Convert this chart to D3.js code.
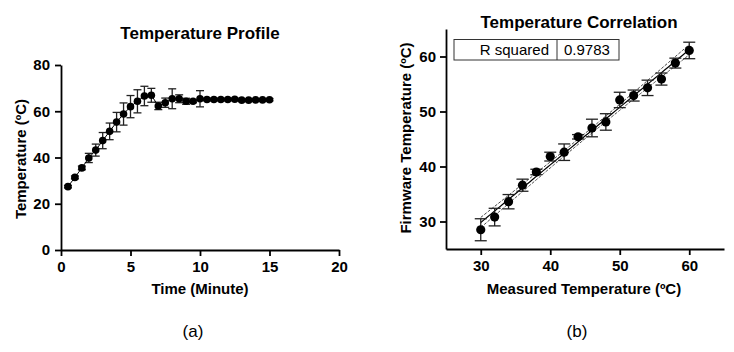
<html>
<head>
    <script src="https://d3js.org/d3.v7.min.js"></script>
    <style>
        body { margin: 0; background: #fff; }
        text { font-family: "Liberation Sans", Arial, sans-serif; fill: #000; }
        .axis path, .axis line { stroke: #000; stroke-width: 1.8; }
        .axis text { font-size: 15px; font-weight: bold; }
        .title { font-size: 17px; font-weight: bold; }
        .label { font-size: 15px; font-weight: bold; }
    </style>
</head>
<body>
<svg width="734" height="352"></svg>
<script>
    // (a) temperature profile
    const timeMin = [0.5, 1, 1.5, 2, 2.5, 3, 3.5, 4, 4.5, 5, 5.5, 6, 6.5, 7, 7.5, 8, 8.5, 9, 9.5, 10,
                     10.5, 11, 11.5, 12, 12.5, 13, 13.5, 14, 14.5, 15];
    const tempMean = [27.4, 31.4, 35.5, 39.8, 43.2, 47.3, 51.3, 55.3, 58.8, 62.0, 64.3, 66.6, 66.9, 62.3, 63.7, 65.4,
                      65.4, 64.3, 64.3, 65.4, 65.1, 65.1, 65.1, 65.1, 65.2, 64.8, 64.8, 64.9, 64.9, 65.0];
    const tempErr = [0.5, 0.6, 0.8, 2.0, 2.6, 3.5, 3.6, 4.2, 4.8, 4.8, 5.0, 4.2, 3.0, 1.6, 2.0, 4.3,
                     1.7, 1.3, 0.6, 3.5, 0.5, 0.5, 0.5, 0.5, 0.5, 0.5, 0.5, 0.5, 0.5, 0.5];
    const xTicksA = [0, 5, 10, 15, 20];
    const yTicksA = [0, 20, 40, 60, 80];

    // (b) temperature correlation
    const measured = [30, 32, 34, 36, 38, 40, 42, 44, 46, 48, 50, 52, 54, 56, 58, 60];
    const firmware = [28.5, 30.8, 33.6, 36.6, 39.0, 41.8, 42.6, 45.4, 47.0, 48.1, 52.1, 52.9, 54.3, 55.9, 58.8, 61.1];
    const firmwareErr = [2.0, 1.6, 1.3, 1.1, 0.5, 0.8, 1.5, 0.4, 1.6, 1.5, 1.4, 1.0, 1.4, 1.1, 0.9, 1.5];
    const ticksB = [30, 40, 50, 60];
    const rSquared = "0.9783";

    const svg = d3.select("svg");

    function drawErrors(g, xs, ys, es, x, y, cap) {
        xs.forEach((v, i) => {
            const cx = x(v), y1 = y(ys[i] - es[i]), y2 = y(ys[i] + es[i]);
            g.append("line").attr("x1", cx).attr("x2", cx).attr("y1", y1).attr("y2", y2)
                .attr("stroke", "#222").attr("stroke-width", 1.3);
            [y1, y2].forEach(yy => {
                g.append("line").attr("x1", cx - cap).attr("x2", cx + cap).attr("y1", yy).attr("y2", yy)
                    .attr("stroke", "#222").attr("stroke-width", 1.3);
            });
        });
    }

    // ---------- chart (a)
    const xA = d3.scaleLinear().domain([0, 20]).range([61, 339]);
    const yA = d3.scaleLinear().domain([0, 80]).range([250, 65]);

    svg.append("g").attr("class", "axis").attr("transform", "translate(0,250)")
        .call(d3.axisBottom(xA).tickValues(xTicksA).tickSize(6).tickSizeOuter(0).tickPadding(5));
    svg.append("g").attr("class", "axis").attr("transform", "translate(61,0)")
        .call(d3.axisLeft(yA).tickValues(yTicksA).tickSize(6).tickSizeOuter(0).tickPadding(5));

    const gA = svg.append("g");
    drawErrors(gA, timeMin, tempMean, tempErr, xA, yA, 4);
    gA.append("path")
        .attr("d", d3.line().x((d, i) => xA(d)).y((d, i) => yA(tempMean[i]))(timeMin))
        .attr("fill", "none").attr("stroke", "#000").attr("stroke-width", 1);
    gA.selectAll("circle").data(timeMin).join("circle")
        .attr("cx", d => xA(d)).attr("cy", (d, i) => yA(tempMean[i])).attr("r", 3.8).attr("fill", "#000");

    svg.append("text").attr("class", "title").attr("x", 200).attr("y", 39).attr("text-anchor", "middle")
        .text("Temperature Profile");
    svg.append("text").attr("class", "label").attr("x", 200).attr("y", 294).attr("text-anchor", "middle")
        .text("Time (Minute)");
    svg.append("text").attr("class", "label").attr("text-anchor", "middle")
        .attr("transform", "translate(26,159) rotate(-90)").text("Temperature (ºC)");
    svg.append("text").attr("x", 193).attr("y", 337).attr("text-anchor", "middle")
        .style("font-size", "17px").text("(a)");

    // ---------- chart (b)
    const xB = d3.scaleLinear().domain([25, 65]).range([446, 724]);
    const yB = d3.scaleLinear().domain([25, 65]).range([249, 29]);

    svg.append("g").attr("class", "axis").attr("transform", "translate(0,249)")
        .call(d3.axisBottom(xB).tickValues(ticksB).tickSize(6).tickSizeOuter(0).tickPadding(5));
    svg.append("g").attr("class", "axis").attr("transform", "translate(446,0)")
        .call(d3.axisLeft(yB).tickValues(ticksB).tickSize(6).tickSizeOuter(0).tickPadding(4));

    // linear fit with 95% confidence band
    const n = measured.length;
    const mx = d3.mean(measured), my = d3.mean(firmware);
    const sxx = d3.sum(measured, v => (v - mx) ** 2);
    const sxy = d3.sum(measured, (v, i) => (v - mx) * (firmware[i] - my));
    const slope = sxy / sxx, icpt = my - slope * mx;
    const sse = d3.sum(measured, (v, i) => (firmware[i] - (icpt + slope * v)) ** 2);
    const s = Math.sqrt(sse / (n - 2));
    const tCrit = 2.145;
    const fitX = d3.range(30, 60.01, 0.5);
    const fit = v => icpt + slope * v;
    const band = v => tCrit * s * Math.sqrt(1 / n + (v - mx) ** 2 / sxx);

    const gB = svg.append("g");
    [-1, 1].forEach(sg => {
        gB.append("path")
            .attr("d", d3.line().x(v => xB(v)).y(v => yB(fit(v) + sg * band(v)))(fitX))
            .attr("fill", "none").attr("stroke", "#333").attr("stroke-width", 0.9)
            .attr("stroke-dasharray", "3,1.5");
    });
    gB.append("path")
        .attr("d", d3.line().x(v => xB(v)).y(v => yB(fit(v)))(fitX))
        .attr("fill", "none").attr("stroke", "#000").attr("stroke-width", 1.2);

    drawErrors(gB, measured, firmware, firmwareErr, xB, yB, 6);
    gB.selectAll("circle").data(measured).join("circle")
        .attr("cx", d => xB(d)).attr("cy", (d, i) => yB(firmware[i])).attr("r", 4.6).attr("fill", "#000");

    // R squared table
    const tbl = svg.append("g");
    tbl.append("rect").attr("x", 454).attr("y", 39.5).attr("width", 165).attr("height", 20.5)
        .attr("fill", "#fff").attr("stroke", "#333").attr("stroke-width", 1);
    tbl.append("line").attr("x1", 557).attr("x2", 557).attr("y1", 39.5).attr("y2", 60)
        .attr("stroke", "#333").attr("stroke-width", 1);
    tbl.append("text").attr("x", 549).attr("y", 55).attr("text-anchor", "end")
        .style("font-size", "15px").text("R squared");
    tbl.append("text").attr("x", 564).attr("y", 55)
        .style("font-size", "15px").text(rSquared);

    svg.append("text").attr("class", "title").attr("x", 579).attr("y", 28).attr("text-anchor", "middle")
        .text("Temperature Correlation");
    svg.append("text").attr("class", "label").attr("x", 584).attr("y", 294).attr("text-anchor", "middle")
        .text("Measured Temperature (ºC)");
    svg.append("text").attr("class", "label").attr("text-anchor", "middle")
        .attr("transform", "translate(411,138) rotate(-90)").text("Firmware Temperature (ºC)");
    svg.append("text").attr("x", 577).attr("y", 337).attr("text-anchor", "middle")
        .style("font-size", "17px").text("(b)");
</script>
</body>
</html>
